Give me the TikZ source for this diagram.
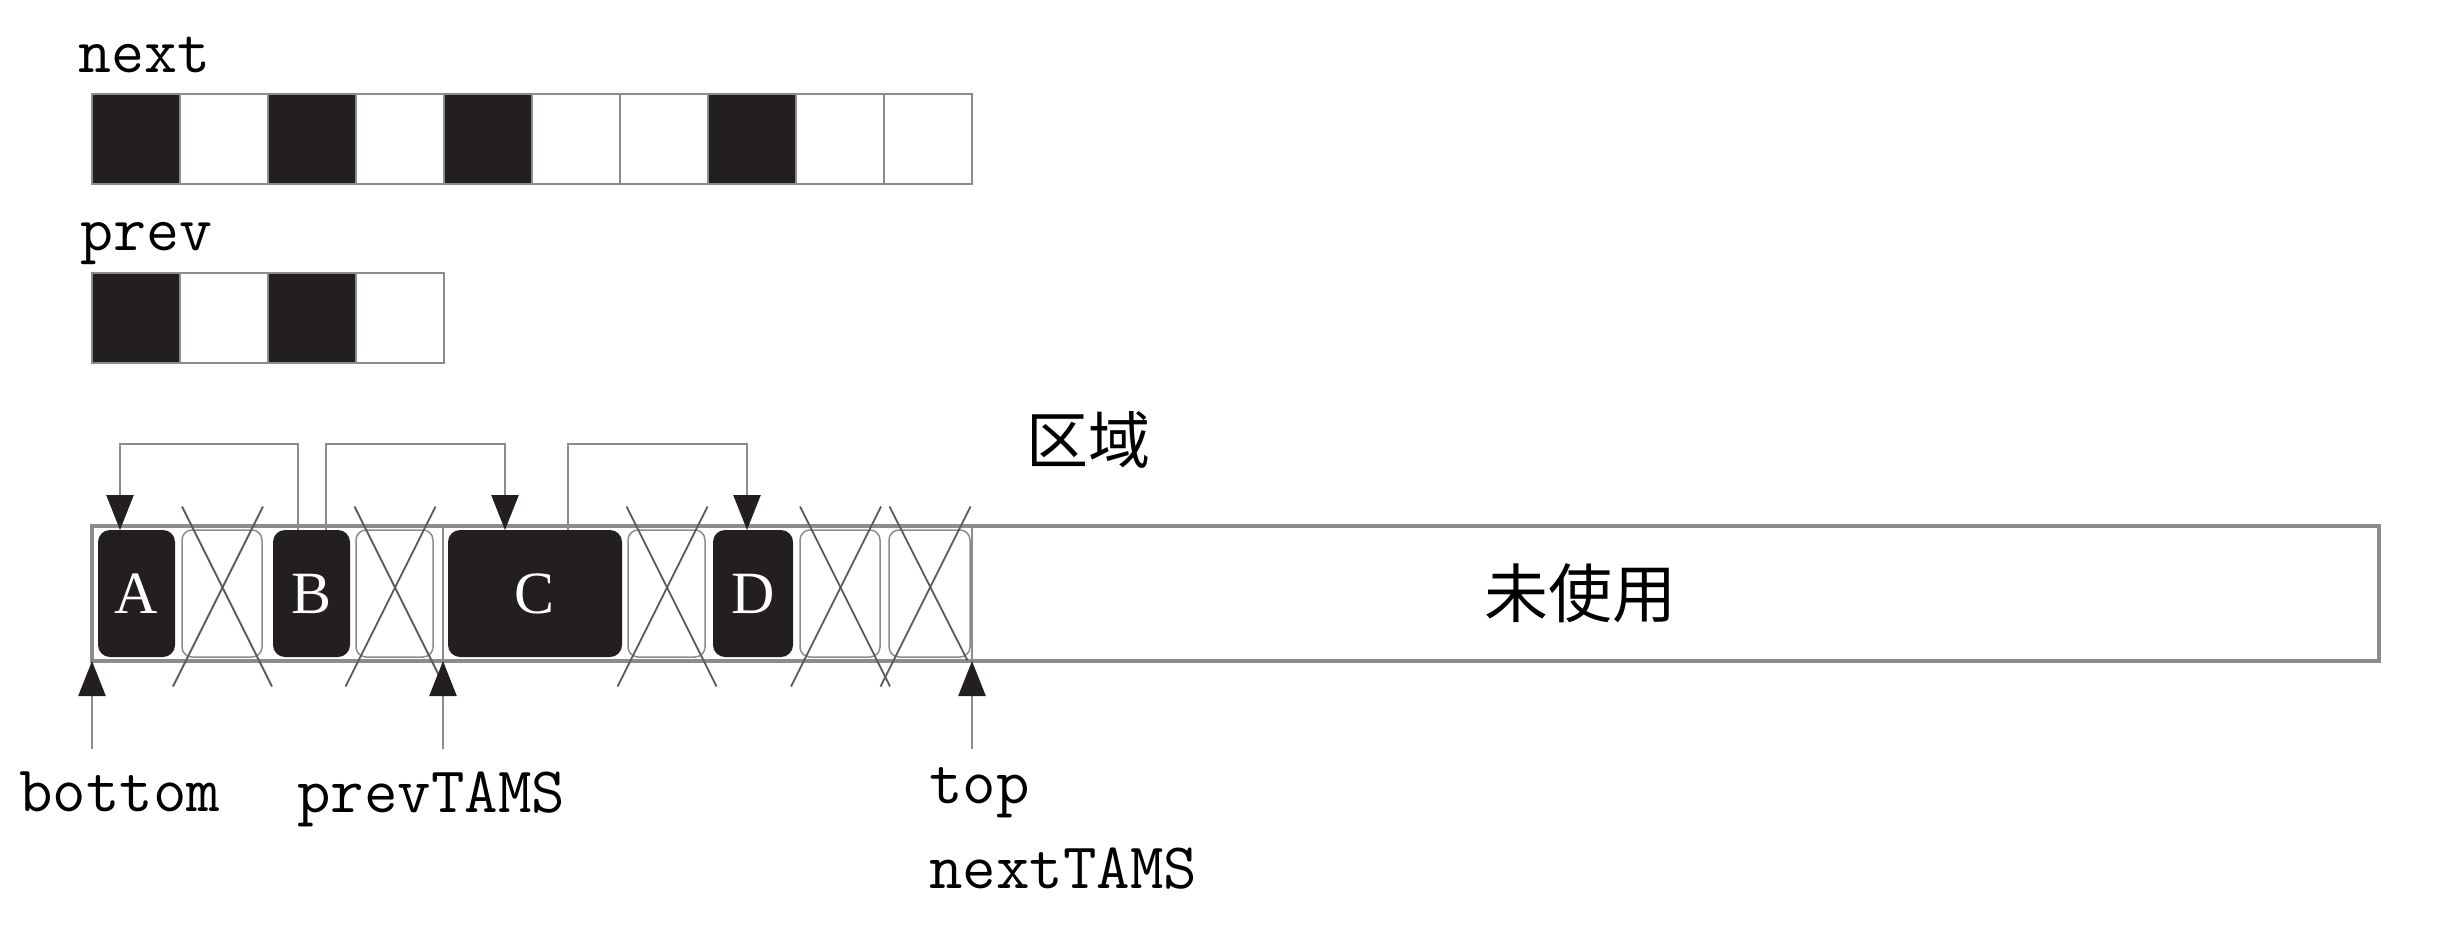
\documentclass[tikz,border=0pt]{standalone}
\usepackage{fontspec}
\newfontfamily\cjk{Noto Sans CJK SC}
\newfontfamily\objfont{Liberation Serif}
\usetikzlibrary{arrows.meta,calc}
\definecolor{lgray}{HTML}{8C8C8C}
\definecolor{xgray}{HTML}{5A5A5A}
\definecolor{ink}{HTML}{231F20}
\begin{document}
\begin{tikzpicture}[x=1pt,y=-1pt,
  cell/.style={draw=lgray,line width=2pt,minimum width=88pt,minimum height=90pt,inner sep=0pt,outer sep=0pt},
  on/.style={fill=ink},
  bar/.style={draw=lgray,line width=3.5pt,minimum width=2287pt,minimum height=135pt,inner sep=0pt,outer sep=0pt},
  obj/.style={fill=ink,rounded corners=12pt,minimum height=127pt,inner sep=0pt,outer sep=0pt,text=white,font=\objfont\fontsize{60}{66}\selectfont},
  freebox/.style={draw=lgray,line width=1.5pt,rounded corners=10pt,minimum height=127pt,inner sep=0pt,outer sep=0pt},
  xline/.style={draw=xgray,line width=1.8pt},
  conn/.style={draw=lgray,line width=2.5pt,-{Triangle[width=27pt,length=35pt,color=ink]}},
  lbl/.style={font=\ttfamily\fontsize{64}{70}\selectfont,inner sep=0pt,anchor=base west},
  blbl/.style={lbl,font=\ttfamily\fontsize{65}{70}\selectfont},
  cjkl/.style={font=\cjk\fontsize{62}{70}\selectfont,inner sep=0pt}
]
\useasboundingbox (0,0) rectangle (2457,928);

% bitmaps
\node[lbl] (lnext) at (78,73) {next};
\foreach \i/\s in {0/on,1/,2/on,3/,4/on,5/,6/,7/on,8/,9/}
  \node[cell,\s] (n\i) at (136+88*\i,139) {};
\node[lbl] (lprev) at (80,250) {prev};
\foreach \i/\s in {0/on,1/,2/on,3/}
  \node[cell,\s] (p\i) at (136+88*\i,318) {};

% region
\node[cjkl] (rlabel) at (1088,440) {区域};
\node[bar] (region) at (1235.5,593.5) {};
\coordinate (pbot) at (92,661);
\coordinate (ptams) at (443,661);
\coordinate (ptop) at (972,661);
\draw[lgray,line width=2pt] (ptams |- region.north) -- (ptams);
\draw[lgray,line width=2pt] (ptop |- region.north) -- (ptop);

\node[obj,minimum width=77pt] (A) at (136.5,593.5) {A};
\node[freebox,minimum width=80pt] (X1) at (222,593.5) {};
\node[obj,minimum width=77pt] (B) at (311.5,593.5) {B};
\node[freebox,minimum width=77pt] (X2) at (394.5,593.5) {};
\node[obj,minimum width=174pt] (C) at (535,593.5) {C};
\node[freebox,minimum width=77pt] (X3) at (666.5,593.5) {};
\node[obj,minimum width=80pt] (D) at (753,593.5) {D};
\node[freebox,minimum width=80pt] (X4) at (840,593.5) {};
\node[freebox,minimum width=81pt] (X5) at (929.5,593.5) {};

\foreach \b in {X1,X2,X3,X4}{
  \draw[xline] ($(\b.center)+(-40,-87)$) -- ($(\b.center)+(50,93)$);
  \draw[xline] ($(\b.center)+(41,-87)$) -- ($(\b.center)+(-49,93)$);
}
\draw[xline] ($(X5.center)+(-40,-87)$) -- ($(X5.center)+(38,67)$);
\draw[xline] ($(X5.center)+(41,-87)$) -- ($(X5.center)+(-49,93)$);

\node[cjkl,font=\cjk\fontsize{64}{70}\selectfont] (unused) at (1580,593) {未使用};

% pointer connectors
\draw[conn] ([xshift=25pt]B.north west) -- ++(0,-86) -| ([xshift=22pt]A.north west);
\draw[conn] ([xshift=53pt]B.north west) -- ++(0,-86) -| ([xshift=57pt]C.north west);
\draw[conn] ([xshift=120pt]C.north west) -- ++(0,-86) -| ([xshift=34pt]D.north west);

% markers
\coordinate (ebot) at (92,749);
\coordinate (etams) at (443,749);
\coordinate (etop) at (972,749);
\draw[conn] (ebot) -- (pbot);
\draw[conn] (etams) -- (ptams);
\draw[conn] (etop) -- (ptop);

\node[blbl] (lbottom) at (19,811) {bottom};
\node[blbl] (lprevt) at (297,812) {prevTAMS};
\node[blbl] (ltop) at (929,803) {top};
\node[blbl] (lnextt) at (929,888) {nextTAMS};
\end{tikzpicture}
\end{document}
